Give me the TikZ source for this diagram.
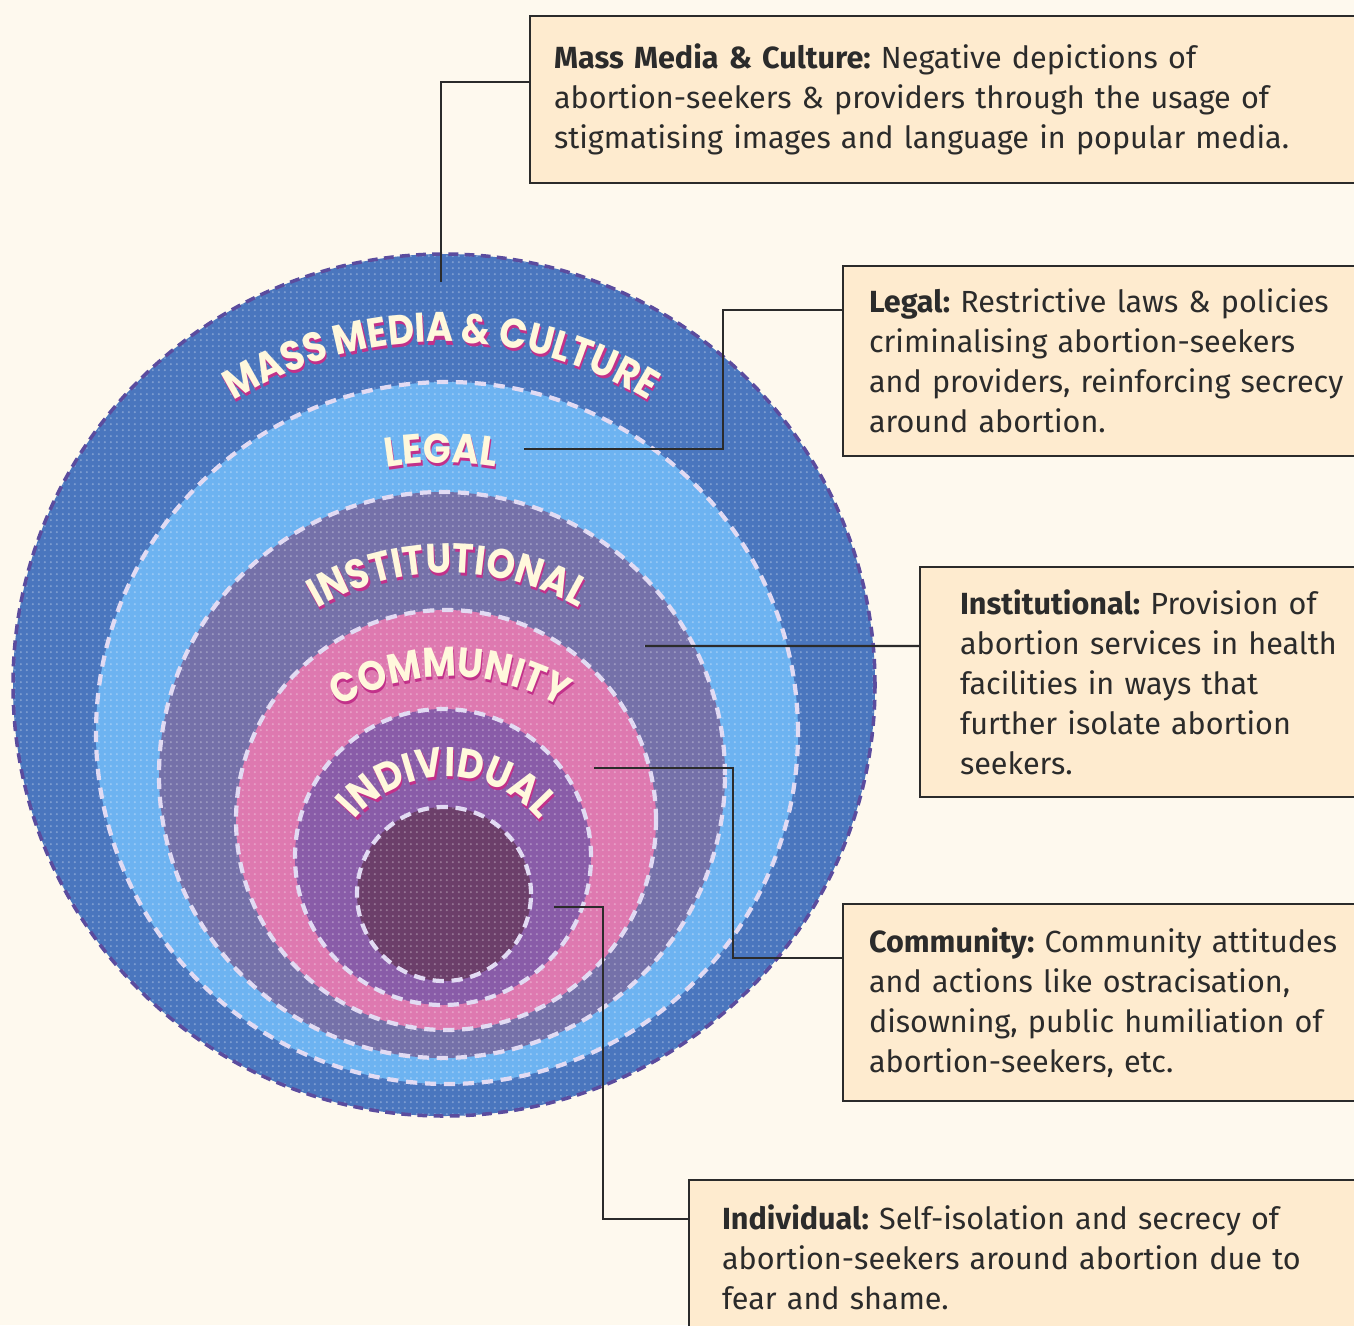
\documentclass[tikz,border=0pt]{standalone}
\usepackage{fontspec}
\setmainfont{Fira Sans}
\newfontfamily\ringfam{Poppins}[FakeStretch=0.88]
\usetikzlibrary{positioning, calc, decorations.text, patterns.meta}
\definecolor{paper}{HTML}{FEF9EE}
\definecolor{ringmedia}{HTML}{4A76BE}
\definecolor{ringlegal}{HTML}{6DB3F1}
\definecolor{ringinst}{HTML}{7571A9}
\definecolor{ringcomm}{HTML}{DE79B0}
\definecolor{ringindiv}{HTML}{895CA8}
\definecolor{ringcore}{HTML}{6C3F6A}
\definecolor{dashouter}{HTML}{5B4C9E}
\definecolor{dashinner}{HTML}{E2DBF3}
\definecolor{boxfill}{HTML}{FEEBCF}
\definecolor{inkdark}{HTML}{2B2B2B}
\definecolor{labelcream}{HTML}{FFF8DC}
\definecolor{labelshadow}{HTML}{C2318A}
\newcommand\ringtype{\ringfam\bfseries\fontsize{11.8pt}{13pt}\selectfont}
\tikzdeclarepattern{
  name=finedots, type=uncolored,
  bottom left={(0pt,0pt)}, top right={(1.8pt,1.8pt)}, tile size={(1.8pt,1.8pt)},
  code={\fill (0.9pt,0.9pt) circle (0.38pt);}
}
\tikzset{
  infobox/.style={draw=inkdark, line width=0.7pt, fill=boxfill, text=inkdark,
    anchor=north west, align=left, inner ysep=0, outer sep=0,
    font=\fontsize{8.7pt}{11.4pt}\selectfont},
  link/.style={draw=inkdark, line width=0.7pt},
  outerdash/.style={draw=dashouter, line width=1pt, dash pattern=on 2.8pt off 1.8pt},
  innerdash/.style={draw=dashinner, line width=1.2pt, dash pattern=on 3.2pt off 2.2pt},
  ringlabel/.style={decorate, decoration={text along path, text align=center,
    text color=labelcream, text={|\ringtype|#1}}},
  ringshadow/.style={decorate, shift={(0.012,-0.03)}, decoration={text along path,
    text align=center, text color=labelshadow, text={|\ringtype|#1}}}
}

\begin{document}
\begin{tikzpicture}

\fill [paper] (0,0) rectangle (13.54,-13.25);
\useasboundingbox (0,0) rectangle (13.54,-13.25);

% rings
\fill [ringmedia] (4.44,-6.85) circle (4.31);
\fill [ringlegal] (4.47,-7.33) circle (3.51);
\fill [ringinst] (4.42,-7.75) circle (2.83);
\fill [ringcomm] (4.46,-8.20) circle (2.10);
\fill [ringindiv] (4.43,-8.57) circle (1.48);
\fill [ringcore] (4.44,-8.94) circle (0.87);
\fill [pattern=finedots, pattern color=white, fill opacity=0.3] (4.44,-6.85) circle (4.31);

\draw [outerdash] (4.44,-6.85) circle (4.31);
\draw [innerdash] (4.47,-7.33) circle (3.51);
\draw [innerdash] (4.42,-7.75) circle (2.83);
\draw [innerdash] (4.46,-8.20) circle (2.10);
\draw [innerdash] (4.43,-8.57) circle (1.48);
\draw [innerdash] (4.44,-8.94) circle (0.87);

% curved ring names
\path [ringshadow={MASS MEDIA {\&} CULTURE}] (4.41,-7.36) ++(150:3.94) arc [start angle=150, end angle=30, radius=3.94];
\path [ringlabel={MASS MEDIA {\&} CULTURE}] (4.41,-7.36) ++(150:3.94) arc [start angle=150, end angle=30, radius=3.94];
\path [ringshadow={LEGAL}] (4.41,-7.93) ++(120:3.30) arc [start angle=120, end angle=60, radius=3.30];
\path [ringlabel={LEGAL}] (4.41,-7.93) ++(120:3.30) arc [start angle=120, end angle=60, radius=3.30];
\path [ringshadow={INSTITUTIONAL}] (4.48,-8.32) ++(150:2.59) arc [start angle=150, end angle=30, radius=2.59];
\path [ringlabel={INSTITUTIONAL}] (4.48,-8.32) ++(150:2.59) arc [start angle=150, end angle=30, radius=2.59];
\path [ringshadow={COMMUNITY}] (4.50,-8.97) ++(150:2.20) arc [start angle=150, end angle=30, radius=2.20];
\path [ringlabel={COMMUNITY}] (4.50,-8.97) ++(150:2.20) arc [start angle=150, end angle=30, radius=2.20];
\path [ringshadow={INDIVIDUAL}] (4.47,-8.97) ++(175:1.20) arc [start angle=175, end angle=5, radius=1.20];
\path [ringlabel={INDIVIDUAL}] (4.47,-8.97) ++(175:1.20) arc [start angle=175, end angle=5, radius=1.20];

% boxes
\node [infobox, text width=8.22cm, inner xsep=0.24cm, minimum height=1.67cm] (mmbox) at (5.30,-0.16)
  {\textbf{Mass Media \& Culture:}~Negative depictions of\\abortion-seekers \& providers through the usage of\\stigmatising images and language in popular media.};
\node [infobox, text width=5.08cm, inner xsep=0.26cm, minimum height=1.90cm] (lgbox) at (8.43,-2.66)
  {\textbf{Legal:}~Restrictive laws \& policies\\criminalising abortion-seekers\\and providers, reinforcing secrecy\\around abortion.};
\node [infobox, text width=4.00cm, inner xsep=0.40cm, minimum height=2.30cm] (inbox) at (9.20,-5.67)
  {\textbf{Institutional:}~Provision of\\abortion services in health\\facilities in ways that\\further isolate abortion\\seekers.};
\node [infobox, text width=5.08cm, inner xsep=0.26cm, minimum height=1.97cm] (cmbox) at (8.43,-9.04)
  {\textbf{Community:}~Community attitudes\\and actions like ostracisation,\\disowning, public humiliation of\\abortion-seekers, etc.};
\node [infobox, text width=6.44cm, inner xsep=0.33cm, minimum height=1.55cm] (idbox) at (6.89,-11.80)
  {\textbf{Individual:}~Self-isolation and secrecy of\\abortion-seekers around abortion due to\\fear and shame.};

% leader lines
\coordinate (mmend) at (4.41,-2.82);
\coordinate (lgend) at (5.24,-4.49);
\coordinate (inend) at (6.45,-6.46);
\coordinate (cmend) at (5.94,-7.68);
\coordinate (idend) at (5.54,-9.07);

\draw [link] ([yshift=-6.6mm]mmbox.north west) -| (mmend);
\draw [link] ([yshift=-4.4mm]lgbox.north west) -- ++(-1.20,0) |- (lgend);
\draw [link] ([yshift=-7.9mm]inbox.north west) -- (inend);
\draw [link] ([yshift=-5.4mm]cmbox.north west) -- ++(-1.10,0) |- (cmend);
\draw [link] ([yshift=-3.9mm]idbox.north west) -- ++(-0.86,0) |- (idend);

\end{tikzpicture}
\end{document}
